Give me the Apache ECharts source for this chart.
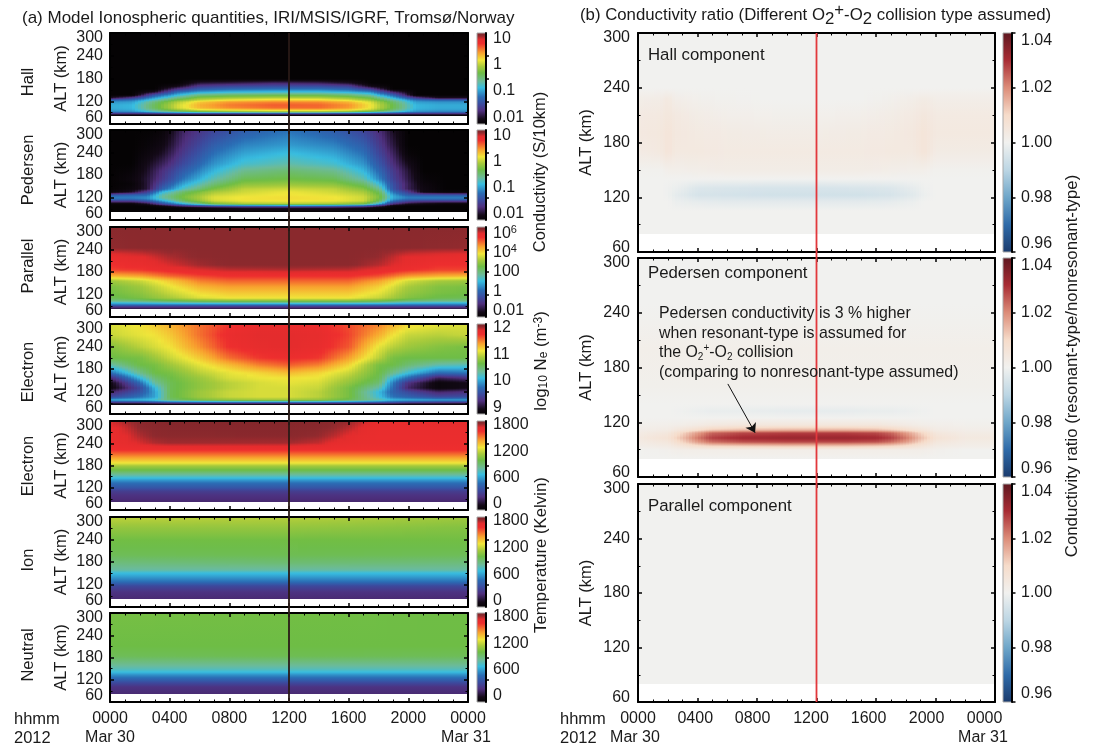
<!DOCTYPE html>
<html><head><meta charset="utf-8">
<style>html,body{margin:0;padding:0;background:#fff}#c{width:1094px;height:748px}</style>
<script src="https://cdn.jsdelivr.net/npm/echarts@6/dist/echarts.min.js"></script>
</head><body><div id="c"></div>
<script>
const xTickLabels = ['0000','0400','0800','1200','1600','2000','0000'];
const altTickLabels = ['60','120','180','240','300'];
const noonHour = 12;

/* ---- Hall conductivity, log10(S/10km) ---- */
const hallTimes = [0,1.5,3,4.5,6,8,11,14,16,17.5,19,20.5,22,24];
const hallAlts = [81,85,88,92,96,102,110,118,124,128,136,144,152,160,168,178,300];
const hallRows = [
[-2.25,-2.25,-2.25,-2.25,-2.25,-2.25,-2.25,-2.25,-2.25,-2.25,-2.25,-2.25,-2.25,-2.25],
[-2.1,-2.1,-2.1,-2.1,-2.1,-2.1,-2.1,-2.1,-2.1,-2.1,-2.1,-2.1,-2.1,-2.1],
[-1.5,-1.5,-1.4,-1.3,-1.2,-1.2,-1.1,-1.1,-1.2,-1.3,-1.4,-1.5,-1.5,-1.5],
[-1.15,-1.1,-.8,-.6,-.4,-.3,-.2,-.2,-.3,-.5,-.8,-1.1,-1.15,-1.15],
[-1,-.95,-.55,-.15,.1,.2,.3,.3,.2,0,-.5,-.95,-1,-1],
[-.95,-.9,-.4,.05,.35,.5,.6,.6,.45,.15,-.35,-.9,-.95,-.95],
[-.95,-.9,-.4,.05,.38,.55,.65,.62,.48,.17,-.35,-.9,-.95,-.95],
[-1.05,-1,-.5,-.05,.28,.45,.52,.5,.35,.08,-.45,-1,-1.05,-1.05],
[-1.3,-1.2,-.75,-.3,0,.15,.25,.22,.08,-.15,-.65,-1.2,-1.3,-1.3],
[-2,-1.6,-1,-.55,-.2,-.1,-.02,-.03,-.15,-.35,-.9,-1.6,-2,-2],
[-2.25,-2.25,-1.4,-.9,-.55,-.45,-.4,-.4,-.5,-.7,-1.3,-2.25,-2.25,-2.25],
[-2.25,-2.25,-2,-1.25,-1,-.9,-.85,-.85,-.95,-1.1,-1.8,-2.25,-2.25,-2.25],
[-2.25,-2.25,-2.25,-1.7,-1.35,-1.25,-1.2,-1.2,-1.3,-1.6,-2.25,-2.25,-2.25,-2.25],
[-2.25,-2.25,-2.25,-2.1,-1.65,-1.55,-1.5,-1.5,-1.6,-2.1,-2.25,-2.25,-2.25,-2.25],
[-2.25,-2.25,-2.25,-2.25,-1.95,-1.9,-1.8,-1.85,-2,-2.25,-2.25,-2.25,-2.25,-2.25],
[-2.25,-2.25,-2.25,-2.25,-2.25,-2.25,-2.25,-2.25,-2.25,-2.25,-2.25,-2.25,-2.25,-2.25],
[-2.25,-2.25,-2.25,-2.25,-2.25,-2.25,-2.25,-2.25,-2.25,-2.25,-2.25,-2.25,-2.25,-2.25]
];

/* ---- Pedersen conductivity, log10(S/10km) ---- */
const pedTimes = [0,1.5,2.5,3.5,5,7,9,12,15,17,18,19,20,21,22.5,24];
const pedAlts = [81,92,98,104,110,116,122,128,134,142,155,170,190,210,235,260,300];
const pedRows = [
[-2.25,-2.25,-2.25,-2.25,-2.25,-2.25,-2.25,-2.25,-2.25,-2.25,-2.25,-2.25,-2.25,-2.25,-2.25,-2.25],
[-2.25,-2.25,-2.25,-2.25,-2.2,-2.1,-2,-2,-2,-2.1,-2.2,-2.25,-2.25,-2.25,-2.25,-2.25],
[-2.25,-2.25,-2.25,-2.1,-1.7,-1.4,-1.3,-1.2,-1.25,-1.4,-1.8,-2.2,-2.25,-2.25,-2.25,-2.25],
[-2.2,-2.2,-2,-1.5,-.9,-.3,-.1,-.05,-.1,-.3,-.9,-1.7,-2,-2.1,-2.2,-2.2],
[-1.6,-1.6,-1.4,-1,-.4,.05,.15,.17,.15,.05,-.4,-1.2,-1.5,-1.6,-1.6,-1.6],
[-1.2,-1.2,-1.1,-.75,-.3,.1,.18,.2,.18,.05,-.3,-1,-1.2,-1.2,-1.2,-1.2],
[-1.15,-1.15,-1.1,-.65,-.25,.1,.17,.2,.17,.05,-.25,-.95,-1.15,-1.15,-1.15,-1.15],
[-1.4,-1.3,-1.25,-.7,-.3,.03,.12,.18,.12,0,-.3,-1,-1.35,-1.4,-1.4,-1.4],
[-2.2,-2,-1.6,-.9,-.42,-.08,.05,.15,.05,-.08,-.4,-1.2,-1.6,-2.1,-2.2,-2.2],
[-2.25,-2.15,-1.95,-1.3,-.72,-.27,0,.05,0,-.22,-.58,-1.4,-1.85,-2.1,-2.25,-2.25],
[-2.25,-2.2,-1.95,-1.5,-.95,-.5,-.2,-.15,-.2,-.45,-.85,-1.45,-1.85,-2.15,-2.25,-2.25],
[-2.25,-2.15,-1.95,-1.65,-1.15,-.7,-.38,-.32,-.38,-.7,-1.1,-1.55,-1.9,-2.2,-2.25,-2.25],
[-2.25,-2.2,-2,-1.72,-1.32,-.9,-.58,-.47,-.58,-.9,-1.25,-1.62,-1.95,-2.25,-2.25,-2.25],
[-2.25,-2.25,-2.05,-1.85,-1.47,-1.05,-.8,-.68,-.8,-1.05,-1.38,-1.72,-2.05,-2.25,-2.25,-2.25],
[-2.25,-2.25,-2.15,-2,-1.6,-1.2,-.97,-.85,-.97,-1.2,-1.52,-1.82,-2.2,-2.25,-2.25,-2.25],
[-2.25,-2.25,-2.2,-2.1,-1.7,-1.33,-1.12,-1.02,-1.12,-1.33,-1.62,-1.92,-2.25,-2.25,-2.25,-2.25],
[-2.25,-2.25,-2.25,-2.2,-1.8,-1.55,-1.35,-1.2,-1.35,-1.55,-1.75,-2.02,-2.25,-2.25,-2.25,-2.25]
];

/* ---- Parallel conductivity, log10(S/10km) ---- */
const parTimes = [0,2,4,6,8,12,16,18,20,22,24];
const parAlts = [81,86,92,98,104,112,125,140,155,170,185,200,220,245,300];
const parRows = [
[-1.8,-1.8,-1.8,-1.8,-1.8,-1.8,-1.8,-1.8,-1.8,-1.8,-1.8],
[-1.2,-1.2,-1.2,-1.2,-1.2,-1.2,-1.2,-1.2,-1.2,-1.2,-1.2],
[.1,.1,.1,.1,.1,.1,.1,.1,.1,.1,.1],
[1,1.1,1.3,1.4,1.5,1.5,1.5,1.4,1.1,1,1],
[1.9,2.1,2.4,2.7,2.8,2.8,2.8,2.6,2.1,1.9,1.9],
[2.4,2.7,3.2,3.7,3.9,3.9,3.9,3.5,2.8,2.5,2.4],
[2.6,2.9,3.5,4,4.2,4.2,4.2,3.8,3,2.7,2.6],
[2.7,3.1,3.8,4.4,4.6,4.6,4.6,4.1,3.2,2.8,2.7],
[3.1,3.5,4.2,4.9,5.1,5.1,5.1,4.6,3.6,3.2,3.1],
[4.4,4.6,5.1,5.4,5.6,5.6,5.6,5.3,4.7,4.5,4.4],
[5.4,5.5,5.75,6,6.15,6.2,6.15,5.9,5.6,5.4,5.4],
[5.6,5.75,6.05,6.3,6.42,6.45,6.42,6.2,5.8,5.6,5.6],
[5.8,5.95,6.25,6.42,6.45,6.45,6.45,6.35,5.95,5.85,5.8],
[6.38,6.42,6.45,6.45,6.45,6.45,6.45,6.45,6.42,6.38,6.35],
[6.45,6.45,6.45,6.45,6.45,6.45,6.45,6.45,6.45,6.45,6.45]
];

/* ---- Electron density, log10 Ne (m^-3) ---- */
const neTimes = [0,2,3,4,6,8,10,12,14,16,18,19,20,22,24];
const neAlts = [84,88,92,98,105,118,130,143,155,170,190,210,240,270,300];
const neRows = [
[8.85,8.85,8.85,8.85,8.85,8.85,8.85,8.85,8.85,8.85,8.85,8.85,8.85,8.85,8.85],
[8.9,8.9,8.95,9,9,9,9,9,9,9,9,9,8.95,8.95,8.9],
[9.5,9.6,9.7,9.8,9.9,10,10,10,10,9.9,9.8,9.7,9.6,9.5,9.5],
[10.05,10.1,10.2,10.5,10.7,10.8,10.85,10.85,10.8,10.6,10.3,10.1,10.05,10,10],
[9.5,9.8,10,10.6,10.85,11,11.05,11.05,10.95,10.7,10.15,9.8,9.7,9.5,9.55],
[9.2,9.6,10,10.6,10.85,11,11.05,11.05,10.95,10.7,10.1,9.7,9.5,9.2,9.3],
[8.85,9.5,10.1,10.6,10.8,10.95,11.05,11.05,11,10.7,10.3,9.75,9.2,8.85,8.95],
[8.9,9.75,10.35,10.6,10.8,10.95,11.05,11.1,11.05,10.8,10.5,9.85,9.3,8.85,8.95],
[9.25,10.1,10.5,10.65,10.85,11.05,11.12,11.15,11.12,10.9,10.6,10.1,9.75,9.15,9.3],
[9.75,10.4,10.65,10.7,10.95,11.1,11.2,11.3,11.2,11,10.65,10.4,10.15,9.75,9.8],
[10.3,10.65,10.7,10.85,11.1,11.3,11.5,11.6,11.5,11.2,10.7,10.65,10.5,10.3,10.25],
[10.65,10.7,10.85,11,11.25,11.55,11.72,11.78,11.72,11.4,10.95,10.7,10.65,10.65,10.65],
[10.75,10.95,11.05,11.15,11.45,11.75,11.85,11.88,11.82,11.62,11.1,10.95,10.85,10.75,10.7],
[11,11.1,11.15,11.25,11.55,11.8,11.88,11.88,11.85,11.68,11.35,11.15,11,10.95,11],
[11.05,11.15,11.25,11.35,11.55,11.72,11.82,11.82,11.78,11.65,11.5,11.35,11.2,11.1,11.05]
];

/* ---- Electron temperature (K) ---- */
const teTimes = [0,1,2,3,4,12,14,15,16,17,18,24];
const teAlts = [81,90,100,110,120,132,140,147,155,168,178,187,195,204,213,222,240,260,280,300];
const teRows = [
[140,140,140,140,140,140,140,140,140,140,140,140],
[160,160,160,160,160,160,160,160,160,160,160,160],
[190,190,190,190,190,190,190,190,190,190,190,190],
[250,250,250,250,250,250,250,250,250,250,250,250],
[360,360,360,360,360,360,360,360,360,360,360,360],
[480,480,480,480,480,480,480,480,480,480,480,480],
[590,590,590,590,590,590,590,590,590,590,590,590],
[680,680,680,680,680,680,680,680,680,680,680,680],
[800,800,800,800,800,800,800,800,800,800,800,800],
[1000,1000,1000,1000,1000,1000,1000,1000,1000,1000,1000,1000],
[1130,1130,1130,1130,1130,1130,1130,1130,1130,1130,1130,1130],
[1280,1280,1280,1280,1280,1280,1280,1280,1280,1280,1280,1280],
[1370,1370,1370,1370,1370,1370,1370,1370,1370,1370,1370,1370],
[1460,1460,1460,1460,1460,1460,1460,1460,1460,1460,1460,1460],
[1570,1570,1570,1570,1570,1570,1570,1570,1570,1570,1570,1570],
[1650,1650,1650,1650,1650,1650,1650,1650,1650,1650,1650,1650],
[1690,1710,1750,1790,1805,1800,1770,1720,1700,1690,1680,1670],
[1695,1730,1790,1825,1835,1840,1815,1780,1730,1700,1680,1680],
[1710,1760,1820,1840,1850,1850,1840,1815,1780,1725,1690,1690],
[1750,1800,1835,1850,1860,1860,1850,1840,1815,1770,1700,1730]
];

/* ---- Ion temperature (K) ---- */
const tiTimes = [0,12,24];
const tiAlts = [81,100,115,128,140,150,160,177,200,240,270,300];
const tiRows = [
[150,150,150],[190,190,190],[300,300,300],[470,470,470],[590,590,590],[680,680,680],
[800,800,800],[880,900,880],[960,970,960],[1010,1010,1010],[1090,1090,1050],[1190,1170,1120]
];

/* ---- Neutral temperature (K) ---- */
const tnTimes = [0,12,24];
const tnAlts = [81,100,112,122,132,142,150,165,185,210,300];
const tnRows = [
[150,150,150],[190,190,190],[300,300,300],[440,440,440],[560,560,560],[680,680,680],
[760,760,760],[860,860,860],[960,970,960],[1000,1000,1000],[1020,1010,1000]
];

/* ---- Ratio, Hall ---- */
const rHallTimes = [0,1.5,2,2.5,4,6,9,12,15,17,18.5,19.2,20,22,24];
const rHallAlts = [80,105,115,122,130,140,150,170,190,210,228,240,300];
const rHallRows = [
[1,1,1,1,1,1,1,1,1,1,1,1,1,1,1],
[1,1,1,1,1,1,1,1,1,1,1,1,1,1,1],
[1,1,1,.999,.998,.9975,.9975,.9975,.9975,.998,.999,1,1,1,1],
[1,1,.9995,.998,.995,.9945,.994,.994,.994,.995,.997,.999,1,1,1],
[1,1,.9995,.999,.996,.9955,.995,.995,.9955,.996,.998,.9995,1,1,1],
[1,1,1,1,1,1,1,1,1,1,1,1,1,1,1],
[1.0005,1.0005,1.0015,1.0015,1.002,1.0025,1.0025,1.0025,1.0025,1.002,1.0015,1.0015,1.0005,1.0005,1.0005],
[1.003,1.004,1.006,1.004,1.004,1.0035,1.0035,1.0035,1.0035,1.004,1.004,1.006,1.003,1.003,1.003],
[1.004,1.0045,1.006,1.0045,1.0035,1.003,1.0025,1.0025,1.003,1.0035,1.0045,1.006,1.004,1.004,1.004],
[1.0035,1.004,1.005,1.004,1.0025,1.0015,1.001,1.001,1.0015,1.0025,1.0035,1.005,1.0035,1.0035,1.0035],
[1.002,1.0025,1.004,1.002,1.001,1.0005,1,1,1,1.001,1.002,1.003,1.002,1.002,1.002],
[1,1,1,1,1,1,1,1,1,1,1,1,1,1,1],
[1,1,1,1,1,1,1,1,1,1,1,1,1,1,1]
];

/* ---- Ratio, Pedersen ---- */
const rPedTimes = [0,2,3,4,5,7,10,12,14,16,17,18,19,20,22,24];
const rPedAlts = [80,90,94,98,103,108,112,117,125,132,140,160,200,230,250,300];
const rPedRows = [
[1,1,1,1,1,1,1,1,1,1,1,1,1,1,1,1],
[1,1.001,1.002,1.002,1.002,1.002,1.002,1.002,1.002,1.002,1.002,1.002,1.002,1.001,1,1],
[1.002,1.003,1.006,1.009,1.011,1.012,1.013,1.013,1.013,1.012,1.011,1.009,1.006,1.003,1.002,1.002],
[1.003,1.005,1.011,1.018,1.023,1.026,1.027,1.027,1.027,1.026,1.023,1.018,1.011,1.005,1.003,1.003],
[1.004,1.007,1.014,1.022,1.028,1.031,1.032,1.032,1.032,1.031,1.028,1.022,1.014,1.007,1.004,1.004],
[1.003,1.005,1.011,1.018,1.024,1.027,1.028,1.028,1.028,1.027,1.024,1.018,1.011,1.005,1.003,1.003],
[1.002,1.003,1.006,1.009,1.012,1.014,1.015,1.015,1.015,1.014,1.012,1.009,1.006,1.003,1.002,1.002],
[1.001,1.0015,1.002,1.003,1.004,1.005,1.005,1.005,1.005,1.005,1.004,1.003,1.002,1.0015,1.001,1.001],
[1,1,1,1,1,1,1,1,1,1,1,1,1,1,1,1],
[1,1,.9995,.999,.9985,.9985,.998,.998,.998,.9985,.9985,.999,.9995,1,1,1],
[1,1,1,1,1,1,1,1,1,1,1,1,1,1,1,1],
[1.001,1.001,1.001,1.001,1.001,1.001,1.001,1.001,1.001,1.001,1.001,1.001,1.001,1.001,1.001,1.001],
[1.0015,1.0015,1.0015,1.0015,1.0015,1.0015,1.0015,1.0015,1.0015,1.0015,1.0015,1.0015,1.0015,1.0015,1.0015,1.0015],
[1.0005,1.0005,1.0005,1.0005,1.0005,1.0005,1.0005,1.0005,1.0005,1.0005,1.0005,1.0005,1.0005,1.0005,1.0005,1.0005],
[1,1,1,1,1,1,1,1,1,1,1,1,1,1,1,1],
[1,1,1,1,1,1,1,1,1,1,1,1,1,1,1,1]
];

/* ---- Ratio, Parallel ---- */
const rParTimes = [0,24];
const rParAlts = [80,300];
const rParRows = [[1,1],[1,1]];

/* ---- Colour scales ---- */
const rainbowStops = [[0,'#050304'],[.06,'#140a18'],[.15,'#4f2f7d'],[.22,'#3c4a9e'],[.30,'#2a6cb4'],[.40,'#38bde0'],[.47,'#6cbb9a'],[.56,'#6ebd45'],[.63,'#a8ca3b'],[.70,'#f0e63a'],[.78,'#f8a02e'],[.88,'#ee2e2e'],[.925,'#e32c2d'],[.965,'#8f2a2e'],[1,'#7c2429']];
const ratioStops = [[0,'#1a3a6c'],[.125,'#2e6aa8'],[.25,'#6ea6c9'],[.375,'#bcd6e4'],[.5,'#f1f1ef'],[.625,'#f6dcca'],[.75,'#dc8c78'],[.875,'#a82c34'],[1,'#5e1820']];

/* colour-bar scale limits */
const condRange = [-2.25,1.2], condBarValues = [-2,-1,0,1], condBarLabels = ['0.01','0.1','1','10'];
const parRange = [-2.7,6.7], parBarValues = [-2,0,2,4,6], parBarLabels = ['0.01','1','100','10{s|4}','10{s|6}'];
const neRange = [8.76,12.15], neBarValues = [9,10,11,12], neBarLabels = ['9','10','11','12'];
const tempRange = [-136,1891], tempBarValues = [0,600,1200,1800], tempBarLabels = ['0','600','1200','1800'];
const ratioRange = [.96,1.04];
const bottomLabelHours = [0,4,8,12,16,20,24];
const rightLabelHours = [0,3.85,7.7,11.63,15.5,19.4,23.3];
const leftAltLabelPos = [76,120,180,240,287];
const rightAltLabelPos = [65,120,180,240,294.5];

const FONT = '"Liberation Sans",Arial,sans-serif';
const TXT = '#1a1a1a';
const num = c => [parseInt(c.slice(1,3),16),parseInt(c.slice(3,5),16),parseInt(c.slice(5,7),16)];
function colorAt(stops,f){
  f = Math.max(0,Math.min(1,f));
  for(let i=1;i<stops.length;i++){
    if(f<=stops[i][0]){
      const a=stops[i-1],b=stops[i],u=(f-a[0])/(b[0]-a[0]),p=num(a[1]),q=num(b[1]);
      return 'rgb('+Math.round(p[0]+(q[0]-p[0])*u)+','+Math.round(p[1]+(q[1]-p[1])*u)+','+Math.round(p[2]+(q[2]-p[2])*u)+')';
    }
  }
  return stops[stops.length-1][1];
}
function cells(times,alts,rows){
  const out=[];
  for(let i=0;i<alts.length-1;i++)for(let j=0;j<times.length-1;j++)
    out.push([times[j],times[j+1],alts[i],alts[i+1],rows[i][j],rows[i][j+1],rows[i+1][j],rows[i+1][j+1]]);
  return out;
}
function cellRenderer(stops,range,step){
  const fr=v=>(v-range[0])/(range[1]-range[0]);
  return function(params,api){
    const a=api.coord([api.value(0),api.value(2)]), b=api.coord([api.value(1),api.value(3)]);
    const x0=Math.round(a[0]),x1=Math.round(b[0]),yB=Math.round(a[1]),yT=Math.round(b[1]);
    const v00=api.value(4),v10=api.value(5),v01=api.value(6),v11=api.value(7);
    const nx=Math.max(1,Math.round((x1-x0)/step)),children=[];
    for(let k=0;k<nx;k++){
      const u=(k+.5)/nx, vb=v00+(v10-v00)*u, vt=v01+(v11-v01)*u;
      const xa=x0+Math.round((x1-x0)*k/nx), xb=x0+Math.round((x1-x0)*(k+1)/nx);
      const fb=fr(vb),ft=fr(vt),n=Math.max(1,Math.min(10,Math.ceil(Math.abs(fb-ft)/.02)));
      let fill;
      if(n===1&&fb===ft) fill=colorAt(stops,fb);
      else{
        const cs=[];
        for(let s=0;s<=n;s++)cs.push({offset:s/n,color:colorAt(stops,ft+(fb-ft)*s/n)});
        fill=new echarts.graphic.LinearGradient(0,0,0,1,cs);
      }
      children.push({type:'rect',silent:true,shape:{x:xa,y:yT,width:xb-xa,height:Math.max(1,yB-yT)},style:{fill:fill}});
    }
    return {type:'group',silent:true,children:children};
  };
}
function barRenderer(stops){
  return function(params,api){
    const a=api.coord([0,api.value(0)]),b=api.coord([1,api.value(1)]);
    const cs=stops.map(s=>({offset:1-s[0],color:s[1]})).reverse();
    return {type:'rect',silent:true,shape:{x:a[0],y:b[1],width:b[0]-a[0],height:a[1]-b[1]},
      style:{fill:new echarts.graphic.LinearGradient(0,0,0,1,cs),stroke:'#a8a8a8',lineWidth:1}};
  };
}

const leftPanels = [
 {top:33,h:91,side:'Hall',t:hallTimes,a:hallAlts,r:hallRows,range:condRange,vals:condBarValues,labs:condBarLabels},
 {top:130,h:90,side:'Pedersen',t:pedTimes,a:pedAlts,r:pedRows,range:condRange,vals:condBarValues,labs:condBarLabels},
 {top:227,h:90,side:'Parallel',t:parTimes,a:parAlts,r:parRows,range:parRange,vals:parBarValues,labs:parBarLabels},
 {top:324,h:90,side:'Electron',t:neTimes,a:neAlts,r:neRows,range:neRange,vals:neBarValues,labs:neBarLabels},
 {top:421,h:89,side:'Electron',t:teTimes,a:teAlts,r:teRows,range:tempRange,vals:tempBarValues,labs:tempBarLabels},
 {top:517,h:90,side:'Ion',t:tiTimes,a:tiAlts,r:tiRows,range:tempRange,vals:tempBarValues,labs:tempBarLabels},
 {top:613,h:89,side:'Neutral',t:tnTimes,a:tnAlts,r:tnRows,range:tempRange,vals:tempBarValues,labs:tempBarLabels}
];
const sideCenters = [82,170,266,372,466,560,655];
const rightPanels = [
 {top:33,h:219,t:rHallTimes,a:rHallAlts,r:rHallRows},
 {top:258,h:219,t:rPedTimes,a:rPedAlts,r:rPedRows},
 {top:484,h:218,t:rParTimes,a:rParAlts,r:rParRows}
];

const grid=[],xAxis=[],yAxis=[],series=[];
const line={lineStyle:{color:'#000',width:2}};
function addPanel(left,width,top,h,last,custX,nameGap,altPos,labMargin){
  const g=grid.length;
  grid.push({left:left,width:width,top:top,height:h,containLabel:false});
  const xi=xAxis.length, yi=yAxis.length;
  const tickX={show:true,inside:true,length:4,lineStyle:{color:'#000',width:1.5}};
  const minorX={show:true,splitNumber:4,length:2.5,lineStyle:{color:'#000',width:1}};
  xAxis.push({gridIndex:g,type:'value',min:0,max:24,interval:4,position:'bottom',z:5,silent:true,
    axisLine:{show:true,onZero:false,...line},axisTick:tickX,minorTick:minorX,splitLine:{show:false},
    axisLabel:{show:last,margin:9,fontFamily:FONT,fontSize:16,color:TXT,
      customValues:custX,formatter:v=>xTickLabels[custX.indexOf(v)]}});
  xAxis.push({gridIndex:g,type:'value',min:0,max:24,interval:4,position:'top',z:5,silent:true,
    axisLine:{show:true,onZero:false,...line},axisTick:tickX,minorTick:minorX,splitLine:{show:false},axisLabel:{show:false}});
  const tickY={show:true,inside:true,length:4,lineStyle:{color:'#000',width:1.5}};
  const minorY={show:true,splitNumber:2,length:2.5,lineStyle:{color:'#000',width:1}};
  yAxis.push({gridIndex:g,type:'value',min:60,max:300,interval:60,position:'left',z:5,silent:true,
    name:'ALT (km)',nameLocation:'middle',nameRotate:90,nameGap:nameGap,
    nameTextStyle:{fontFamily:FONT,fontSize:16.5,color:TXT},
    axisLine:{show:true,onZero:false,...line},axisTick:tickY,minorTick:minorY,splitLine:{show:false},
    axisLabel:{margin:labMargin,fontFamily:FONT,fontSize:16,color:TXT,hideOverlap:false,customValues:altPos,
      formatter:v=>altTickLabels[altPos.indexOf(v)]}});
  yAxis.push({gridIndex:g,type:'value',min:60,max:300,interval:60,position:'right',z:5,silent:true,
    axisLine:{show:true,onZero:false,...line},axisTick:tickY,minorTick:minorY,splitLine:{show:false},axisLabel:{show:false}});
  return {xi,yi};
}
function addBar(left,width,top,h,stops,range,opts){
  const g=grid.length;
  grid.push({left:left,width:width,top:top,height:h,containLabel:false});
  const xi=xAxis.length, yi=yAxis.length;
  xAxis.push({gridIndex:g,type:'value',min:0,max:1,show:false});
  yAxis.push(Object.assign({gridIndex:g,type:'value',min:range[0],max:range[1],position:'right',z:5,silent:true,
    axisLine:{show:true,onZero:false,lineStyle:{color:'#000',width:2}},splitLine:{show:false}},opts));
  series.push({type:'custom',xAxisIndex:xi,yAxisIndex:yi,silent:true,animation:false,progressive:0,
    renderItem:barRenderer(stops),data:[[range[0],range[1]]],encode:{y:[0,1]},z:2});
}

leftPanels.forEach((p,i)=>{
  const ax=addPanel(110,358,p.top,p.h,i===leftPanels.length-1,bottomLabelHours,40,leftAltLabelPos,7);
  series.push({type:'custom',name:p.side,xAxisIndex:ax.xi,yAxisIndex:ax.yi,silent:true,animation:false,progressive:0,
    renderItem:cellRenderer(rainbowStops,p.range,3),data:cells(p.t,p.a,p.r),encode:{x:[0,1],y:[2,3]},z:2});
  const w=p.range[1]-p.range[0];
  addBar(477,9,p.top,p.h,rainbowStops,p.range,{
    axisTick:{show:true,length:3,lineStyle:{color:'#000',width:1.5},customValues:[p.range[0]+.25*w,p.range[0]+.5*w,p.range[0]+.75*w]},
    axisLabel:{margin:7,fontFamily:FONT,fontSize:16,color:TXT,customValues:p.vals,hideOverlap:false,
      formatter:v=>p.labs[p.vals.indexOf(v)],rich:{s:{fontFamily:FONT,fontSize:11,color:TXT,verticalAlign:'top',padding:[0,0,8,0]}}}
  });
});
rightPanels.forEach((p,i)=>{
  const last=i===rightPanels.length-1;
  const ax=addPanel(638,357,p.top,p.h,last,rightLabelHours,43,rightAltLabelPos,8);
  series.push({type:'custom',xAxisIndex:ax.xi,yAxisIndex:ax.yi,silent:true,animation:false,progressive:0,
    renderItem:cellRenderer(ratioStops,ratioRange,3),data:cells(p.t,p.a,p.r),encode:{x:[0,1],y:[2,3]},z:2});
  addBar(1003,9,p.top,p.h,ratioStops,ratioRange,{interval:.02,
    axisTick:{show:true,length:3.5,lineStyle:{color:'#000',width:1.5}},
    axisLabel:{margin:9,fontFamily:FONT,fontSize:16,color:TXT,formatter:v=>v.toFixed(2),
      verticalAlignMinLabel:'bottom',verticalAlignMaxLabel:'top'}});
});

/* annotation arrow inside the Pedersen ratio panel */
const arrowFrom=[6.04,162], arrowTo=[7.87,108.5];
const pedRatioGrid = grid.findIndex(g=>g.left===638&&g.top===258);
const pedRatioAxisX = xAxis.findIndex(a=>a.gridIndex===pedRatioGrid);
const pedRatioAxisY = yAxis.findIndex(a=>a.gridIndex===pedRatioGrid);
series.push({type:'line',xAxisIndex:pedRatioAxisX,yAxisIndex:pedRatioAxisY,data:[],silent:true,animation:false,z:6,
  markLine:{silent:true,animation:false,symbol:['none','arrow'],symbolSize:9,label:{show:false},
    lineStyle:{color:'#111',width:1,type:'solid'},data:[[{coord:arrowFrom},{coord:arrowTo}]]}});

/* noon markers spanning the whole panel columns */
function addNoon(left,width,color){
  const g=grid.length;
  grid.push({left:left,width:width,top:33,height:669,containLabel:false});
  const xi=xAxis.length,yi=yAxis.length;
  xAxis.push({gridIndex:g,type:'value',min:0,max:24,show:false});
  yAxis.push({gridIndex:g,type:'value',min:0,max:1,show:false});
  series.push({type:'line',xAxisIndex:xi,yAxisIndex:yi,data:[[noonHour,0],[noonHour,1]],symbol:'none',silent:true,animation:false,z:8,
    lineStyle:{color:color,width:1.8}});
}
addNoon(110,358,'#2a1a17');
addNoon(638,357,'#e2383c');

function T(x,y,text,size,opt){
  return Object.assign({type:'text',x:x,y:y,silent:true,z:20,style:Object.assign({text:text,fontSize:size,fontFamily:FONT,fill:TXT,align:'left',verticalAlign:'middle'},(opt&&opt.style)||{})},opt&&opt.rotation?{rotation:opt.rotation}:{});
}
const R=Math.PI/2, ctr={align:'center'};
const subRich={
  sub:{fontFamily:FONT,fontSize:10,fill:TXT,verticalAlign:'bottom',lineHeight:19,padding:[6,0,0,0]},
  sup:{fontFamily:FONT,fontSize:10,fill:TXT,verticalAlign:'top',lineHeight:19,padding:[0,0,6,0]}
};
const graphics=[
 T(22,18,'(a) Model Ionospheric quantities, IRI/MSIS/IGRF, Tromsø/Norway',17),
 T(14,719,'hhmm',16.5), T(14,738,'2012',16.5), T(560,719,'hhmm',16.5), T(560,738,'2012',16.5),
 T(110,738,'Mar 30',16,{style:ctr}), T(466,738,'Mar 31',16,{style:ctr}),
 T(635,738,'Mar 30',16,{style:ctr}), T(983,738,'Mar 31',16,{style:ctr}),
 T(648,55,'Hall component',16.8), T(648,273,'Pedersen component',16.8), T(648,506,'Parallel component',16.8),
 T(540,172,'Conductivity (S/10km)',16.4,{rotation:R,style:ctr}),
 T(541,555,'Temperature (Kelvin)',16.8,{rotation:R,style:ctr}),
 T(1072,366,'Conductivity ratio (resonant-type/nonresonant-type)',16.8,{rotation:R,style:ctr})
];
leftPanels.forEach((p,i)=>graphics.push(T(28,sideCenters[i],p.side,16.5,{rotation:R,style:ctr})));
graphics.push({type:'text',x:580,y:15,silent:true,z:20,style:{
  text:'(b) Conductivity ratio (Different O{a|2}{b|+}-O{a|2} collision type assumed)',
  fontSize:16.8,lineHeight:26,fontFamily:FONT,fill:TXT,align:'left',verticalAlign:'middle',
  rich:{a:{fontFamily:FONT,fontSize:16.8,fill:TXT,verticalAlign:'bottom',lineHeight:20},
        b:{fontFamily:FONT,fontSize:16.8,fill:TXT,verticalAlign:'top',lineHeight:19}}}});
graphics.push({type:'text',x:659,y:343,silent:true,z:20,style:{
  text:'Pedersen conductivity is 3 % higher\nwhen resonant-type is assumed for\nthe O{sub|2}{sup|+}-O{sub|2} collision\n(comparing to nonresonant-type assumed)',
  fontSize:15.9,lineHeight:19.5,fontFamily:FONT,fill:TXT,align:'left',verticalAlign:'middle',rich:subRich}});
graphics.push({type:'text',x:541,y:361,rotation:R,silent:true,z:20,style:{
  text:'log{sb|10} N{sb|e} (m{sp|-3})',fontSize:16.8,fontFamily:FONT,fill:TXT,align:'center',verticalAlign:'middle',
  rich:{sb:{fontFamily:FONT,fontSize:12,fill:TXT,verticalAlign:'bottom',lineHeight:16,padding:[6,0,0,0]},
        sp:{fontFamily:FONT,fontSize:12,fill:TXT,verticalAlign:'top',lineHeight:16,padding:[0,0,6,0]}}}});

const chart=echarts.init(document.getElementById('c'),null,{renderer:'canvas',width:1094,height:748});
chart.setOption({animation:false,backgroundColor:'#fff',tooltip:{show:false},grid,xAxis,yAxis,series,graphic:{elements:graphics}});
</script></body></html>
